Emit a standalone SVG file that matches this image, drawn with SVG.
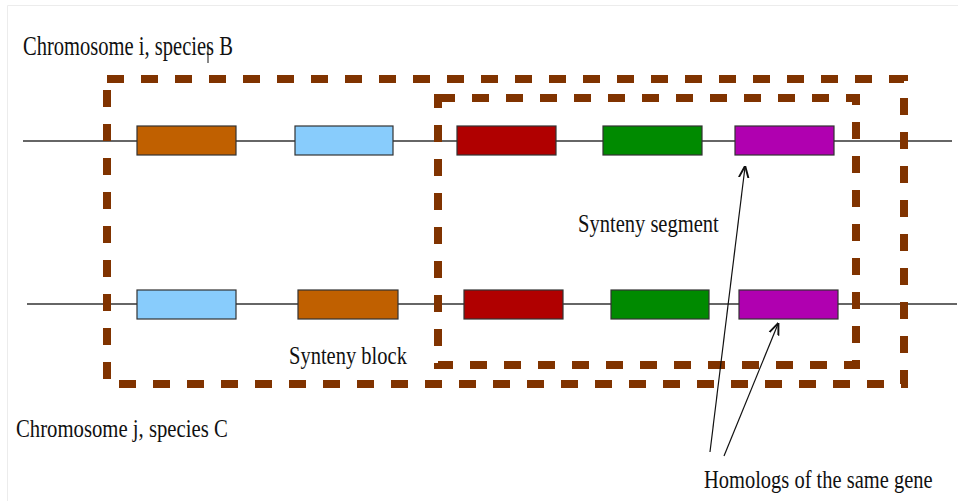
<svg xmlns="http://www.w3.org/2000/svg" width="958" height="501" viewBox="0 0 958 501">
<style>
.chr{stroke:#333;stroke-width:1.5;fill:none}
.gene{stroke:#333;stroke-width:1.2}
.box{fill:none;stroke:#803300;stroke-width:8;stroke-dasharray:17 17}
.lbl{font-family:"Liberation Serif","Times New Roman",serif;font-size:26px;fill:#111}
.arr{stroke:#111;stroke-width:1.2;fill:none;marker-end:url(#ah)}
</style>
<defs>
<marker id="ah" viewBox="0 0 10 10" refX="9" refY="5" markerWidth="12" markerHeight="12" markerUnits="userSpaceOnUse" orient="auto">
<path d="M0,1 L10,5 L0,9" fill="none" stroke="#111" stroke-width="1.6"/>
</marker>
</defs>
<rect width="958" height="501" fill="#fff"/>
<path d="M7.5,501 V5.5 H958" fill="none" stroke="#ececec" stroke-width="1"/>
<g id="chromosome-i">
<line class="chr" x1="23" y1="141" x2="952" y2="141"/>
<text class="lbl" transform="translate(23,55) scale(0.761,1)" style="font-size:27px">Chromosome i, species B</text>
<line x1="208" y1="45" x2="208" y2="63" stroke="#111" stroke-width="1"/>
</g>
<g id="chromosome-j">
<line class="chr" x1="27" y1="304" x2="957" y2="304"/>
<text class="lbl" transform="translate(16,437) scale(0.797,1)">Chromosome j, species C</text>
</g>
<g id="genes-i">
<rect class="gene" x="137" y="126" width="99" height="29" fill="#c06000"/>
<rect class="gene" x="295" y="126" width="98" height="29" fill="#88ccfc"/>
<rect class="gene" x="457" y="126" width="99" height="29" fill="#b00000"/>
<rect class="gene" x="603" y="126" width="99" height="29" fill="#008a00"/>
<rect class="gene" x="735" y="126" width="99" height="29" fill="#b000b0"/>
</g>
<g id="genes-j">
<rect class="gene" x="137" y="290" width="99" height="29" fill="#88ccfc"/>
<rect class="gene" x="298" y="290" width="100" height="29" fill="#c06000"/>
<rect class="gene" x="464" y="290" width="99" height="29" fill="#b00000"/>
<rect class="gene" x="611" y="290" width="98" height="29" fill="#008a00"/>
<rect class="gene" x="739" y="290" width="99" height="29" fill="#b000b0"/>
</g>
<g id="synteny-block">
<rect class="box" x="107" y="79" width="797" height="305"/>
<text class="lbl" transform="translate(289,364) scale(0.789,1)">Synteny block</text>
</g>
<g id="synteny-segment">
<rect class="box" x="438" y="98" width="418" height="267"/>
<text class="lbl" transform="translate(578,232) scale(0.79,1)">Synteny segment</text>
</g>
<g id="homologs-label">
<text class="lbl" transform="translate(704,488) scale(0.788,1)">Homologs of the same gene</text>
</g>
<g id="connectors">
<line class="arr" x1="710" y1="452" x2="745" y2="167"/>
<line class="arr" x1="724" y1="456" x2="778" y2="324"/>
</g>
</svg>
